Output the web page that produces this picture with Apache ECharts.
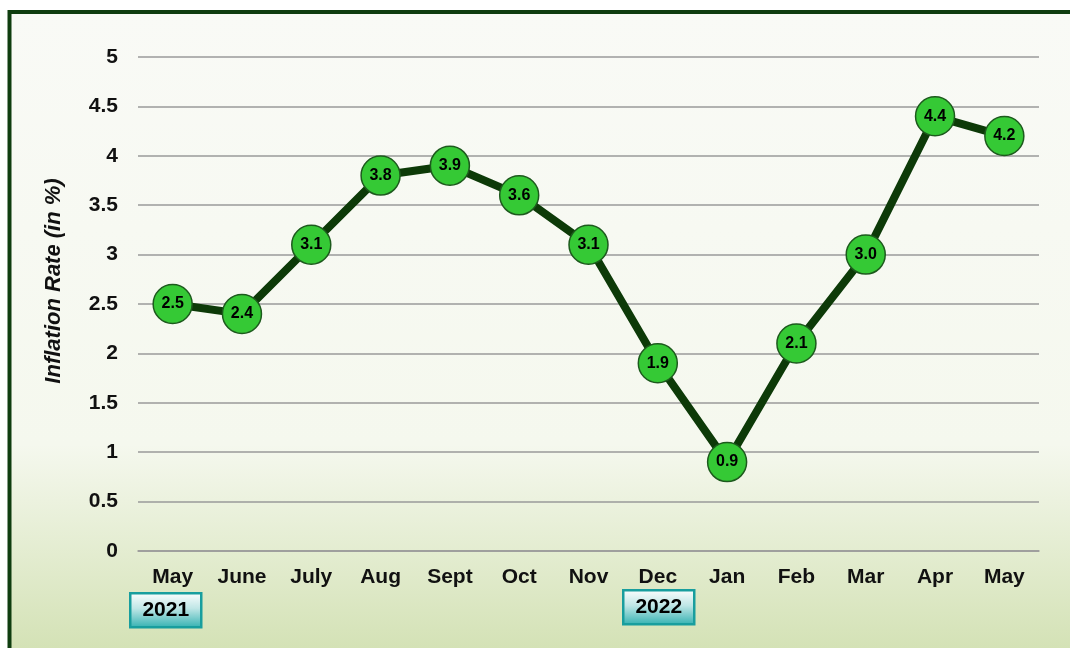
<!DOCTYPE html>
<html>
<head>
<meta charset="utf-8">
<script src="https://cdn.jsdelivr.net/npm/echarts@6/dist/echarts.min.js"></script>
<style>
  html, body { margin: 0; padding: 0; background: #fff; }
  #main { width: 1070px; height: 648px; }
</style>
</head>
<body>
<div id="main"></div>
<script>
var months = ['May', 'June', 'July', 'Aug', 'Sept', 'Oct', 'Nov', 'Dec', 'Jan', 'Feb', 'Mar', 'Apr', 'May'];
var inflation = [2.5, 2.4, 3.1, 3.8, 3.9, 3.6, 3.1, 1.9, 0.9, 2.1, 3.0, 4.4, 4.2];
var yearLabels = ['2021', '2022'];

(function () {
  var myChart = echarts.init(document.getElementById('main'));

  // 年份标签框
  function yearBox(text, x, y) {
    return {
      type: 'group',
      left: x,
      top: y,
      children: [
        {
          type: 'rect',
          shape: { x: 0, y: 0, width: 71, height: 34 },
          style: {
            fill: new echarts.graphic.LinearGradient(0, 0, 0, 1, [
              { offset: 0, color: '#ffffff' },
              { offset: 0.45, color: '#bfe6e6' },
              { offset: 1, color: '#2fb0b0' }
            ]),
            stroke: '#189e9e',
            lineWidth: 2.5
          }
        },
        {
          type: 'text',
          x: 35.5,
          y: 17,
          style: {
            text: text,
            fontFamily: 'Liberation Sans, Arial',
            fontWeight: 'bold',
            fontSize: 21,
            fill: '#000',
            align: 'center',
            verticalAlign: 'middle'
          }
        }
      ]
    };
  }

  var option = {
    backgroundColor: '#ffffff',
    animation: false,
    graphic: [
      {
        type: 'rect',
        z: -10,
        shape: { x: 10, y: 12, width: 1060, height: 636 },
        style: {
          fill: new echarts.graphic.LinearGradient(0, 0, 0, 1, [
            { offset: 0, color: '#f9faf6' },
            { offset: 0.68, color: '#f5f8ee' },
            { offset: 1, color: '#d4e2b6' }
          ])
        }
      },
      {
        type: 'polyline',
        z: -5,
        shape: { points: [[9.5, 648], [9.5, 12], [1070, 12]] },
        style: { stroke: '#0f3d0f', lineWidth: 4, fill: null }
      },
      yearBox(yearLabels[0], 129, 592),
      yearBox(yearLabels[1], 622, 589)
    ],
    grid: {
      left: 138,
      right: 31,
      top: 57,
      bottom: 97
    },
    xAxis: {
      type: 'category',
      data: months,
      boundaryGap: true,
      axisLine: { lineStyle: { color: '#9a9a9a', width: 1.5 } },
      axisTick: { show: false },
      axisLabel: {
        margin: 16,
        color: '#111',
        fontFamily: 'Liberation Sans, Arial',
        fontWeight: 'bold',
        fontSize: 21
      }
    },
    yAxis: {
      type: 'value',
      min: 0,
      max: 5,
      interval: 0.5,
      name: 'Inflation Rate (in %)',
      nameLocation: 'middle',
      nameGap: 73,
      nameRotate: 90,
      nameTextStyle: {
        color: '#111',
        fontFamily: 'Liberation Sans, Arial',
        fontWeight: 'bold',
        fontStyle: 'italic',
        fontSize: 22,
        padding: [0, 0, 0, 46]
      },
      axisLine: { show: false },
      axisTick: { show: false },
      splitLine: { lineStyle: { color: '#9a9a9a', width: 1.5 } },
      axisLabel: {
        margin: 20,
        color: '#111',
        fontFamily: 'Liberation Sans, Arial',
        fontWeight: 'bold',
        fontSize: 21
      }
    },
    series: [
      {
        name: 'Inflation',
        type: 'line',
        data: inflation,
        symbol: 'circle',
        symbolSize: 39,
        lineStyle: { color: '#0d3a08', width: 8 },
        itemStyle: { color: '#35c935', borderColor: '#1d5a1d', borderWidth: 1.5 },
        label: {
          show: true,
          position: 'inside',
          color: '#000',
          fontFamily: 'Liberation Sans, Arial',
          fontWeight: 'bold',
          fontSize: 16,
          formatter: function (p) {
            return p.value.toFixed(1);
          }
        }
      }
    ]
  };
  myChart.setOption(option);
})();
</script>
</body>
</html>
